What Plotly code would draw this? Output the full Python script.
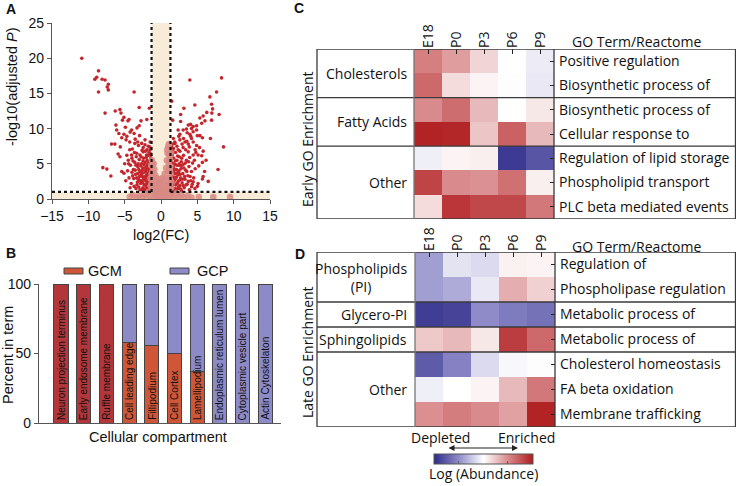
import plotly.graph_objects as go

W, H = 736, 486
def px(x):
    return x / W
def py(y):
    return 1 - y / H

# ---------------- Panel A: volcano ----------------
sig_x = [-10.9, -8.6, -8.85, -9.1, -8.1, -7.7, -7.25, -7.4, -7.25, -8.6, -3.7, -3.0, -5.65, -1.6, -7.7,
         -6.3, -5.5, -5.3, -5.1, -4.55, -4.4, -6.2, -6.1, -4.05, -4.25, -3.7, -3.3, -3.0, -2.75, -1.95,
         -5.1, -4.7, -5.4, -4.8, -6.8, -6.35, -4.3, -3.6, -3.2, -2.65, -2.2, -2.2, -1.5, -1.5, -1.5,
         -5.9, -5.65, -4.7, -4.05, -3.35, -2.9, -2.45, -2.0, -8.0, -7.45, -6.9, -5.4, -5.1,
         -4.5, -4.2, -4.0, -3.8, -3.6, -3.5, -3.4, -3.2, -3.1, -3.0, -2.9, -2.8, -2.7, -2.6, -2.5, -2.5,
         -2.4, -2.3, -2.2, -2.2, -2.1, -2.0, -2.0, -1.9, -1.9, -1.8, -1.8, -1.7, -1.7, -1.6, -1.6, -1.5,
         -1.5, -1.45, -1.4, -1.4, -4.4, -4.1, -3.9, -3.7, -3.3, -3.2, -2.9, -2.65, -2.35, -2.05, -1.85,
         -1.55, -4.6, -3.65, -2.75, -2.15, -1.75, -3.95, -2.45, -1.75, -5.0, -4.85, -3.45, -2.55, -1.95,
         -1.65, -1.35, -1.35, -3.05, -2.35, -4.3, -5.6,
         3.97, 8.33, 7.65, 6.73, 6.96, 7.1, 4.66, 3.15, 1.46, 6.3, 7.0, 8.0, 2.7, 1.6, 2.7, 5.35, 5.8,
         6.05, 5.6, 6.96, 3.75, 4.07, 4.43, 4.9, 2.36, 3.05, 3.5, 2.6, 3.97, 4.43, 4.9, 5.35, 5.7, 6.8,
         8.6, 1.9, 2.6, 3.3, 3.75, 4.2, 4.43, 4.9, 1.7, 2.36, 3.05, 3.75, 4.43, 5.1, 5.6, 5.8, 5.7, 7.85,
         5.8, 5.7, 4.43, 5.1, 4.2, 4.66,
         1.4, 1.45, 1.5, 1.5, 1.55, 1.6, 1.65, 1.7, 1.75, 1.8, 1.85, 1.9, 1.95, 2.0, 2.05, 2.1, 2.15, 2.2,
         2.3, 2.35, 2.4, 2.45, 2.5, 2.6, 2.7, 2.75, 2.8, 2.9, 3.0, 3.05, 3.1, 3.2, 3.3, 3.4, 3.5, 3.6, 3.7,
         3.85, 3.95, 4.1, 4.2, 4.35, 4.5, 4.7, 4.8, 5.2, 5.0, 3.9, 2.85, 1.6, 2.2, 2.9, 3.4, 3.9, 5.3,
         6.2, 6.0, 6.5, 1.45, 1.7, 2.45, 3.6, 4.1]
sig_y = [20.0, 18.2, 17.3, 17.0, 17.0, 16.9, 16.3, 15.9, 15.5, 15.2, 15.2, 13.0, 12.7, 12.9, 12.2,
         12.5, 12.2, 11.2, 11.6, 11.1, 11.3, 10.5, 9.8, 9.8, 9.5, 9.3, 10.1, 10.4, 11.1, 11.3,
         9.2, 8.9, 8.7, 8.4, 7.8, 7.8, 8.1, 7.9, 8.1, 7.9, 8.4, 7.7, 8.1, 7.0, 6.5,
         6.4, 6.0, 6.2, 6.25, 6.5, 6.25, 6.7, 6.25, 4.45, 4.25, 3.27, 3.9, 3.65,
         5.5, 4.8, 5.8, 4.2, 5.2, 3.5, 6.0, 4.6, 2.8, 5.6, 3.9, 2.2, 5.0, 3.2, 4.4, 1.6,
         5.8, 2.7, 3.8, 5.2, 1.9, 4.6, 3.0, 2.3, 5.5, 3.6, 1.4, 4.2, 2.8, 5.0, 1.8, 3.3,
         4.5, 2.4, 5.8, 1.2, 3.0, 2.2, 3.3, 1.8, 2.0, 3.6, 1.3, 2.6, 1.2, 2.1, 4.9,
         3.9, 4.0, 6.6, 6.0, 6.8, 6.2, 7.1, 7.3, 7.5, 5.0, 2.6, 4.8, 3.7, 1.1,
         3.4, 2.0, 4.1, 4.2, 4.9, 7.0, 7.4,
         16.9, 17.2, 15.2, 14.5, 13.45, 12.8, 13.35, 12.9, 13.9, 12.3, 12.2, 12.0, 12.0, 11.2, 11.0, 11.5, 11.8,
         11.1, 10.75, 11.2, 10.5, 10.6, 10.3, 10.4, 9.8, 9.8, 9.94, 9.2, 9.2, 9.56, 9.8, 9.0, 8.7, 8.6,
         7.4, 8.1, 8.4, 8.1, 7.8, 8.6, 8.1, 7.6, 7.2, 7.0, 7.3, 6.7, 6.25, 6.25, 6.15, 6.8, 5.2, 4.2,
         3.2, 2.85, 2.45, 2.2, 1.75, 1.5,
         1.3, 2.5, 3.8, 5.2, 6.3, 1.9, 3.1, 4.5, 5.8, 1.2, 2.7, 3.6, 4.9, 6.6, 2.0, 3.1, 4.2, 5.5,
         1.5, 2.5, 3.8, 4.8, 6.0, 1.9, 3.0, 4.3, 5.3, 2.3, 3.6, 4.9, 6.2, 1.6, 2.8, 4.1, 5.5, 2.1, 3.3,
         4.6, 5.9, 2.6, 3.9, 5.1, 3.0, 4.3, 6.6, 4.7, 1.8, 1.3, 1.1, 7.8, 7.5, 7.8, 7.0, 7.4, 7.3,
         5.5, 3.9, 2.5, 6.9, 8.6, 8.9, 9.4, 8.9]

# denser part of the significant clouds
sig2_x = [-1.38, -1.42, -1.48, -1.52, -1.58, -1.62, -1.68, -1.72, -1.78, -1.82, -1.88, -1.92, -1.98,
          -2.02, -2.08, -2.12, -2.18, -2.25, -2.28, -2.32, -2.42, -2.48, -2.52, -2.58, -2.62, -2.72,
          -2.78, -2.85, -2.95, -3.05, -3.15, -3.25, -3.35, -3.45, -3.55, -3.75, -3.85, -4.0, -4.25,
          -4.45, -1.44, -1.56, -1.66, -1.92, -2.6, -3.1, -3.55, -2.95, -4.9, -5.8,
          1.38, 1.42, 1.48, 1.52, 1.58, 1.62, 1.68, 1.72, 1.78, 1.82, 1.88, 1.92, 1.98, 2.02, 2.08,
          2.12, 2.18, 2.25, 2.28, 2.32, 2.42, 2.48, 2.52, 2.58, 2.62, 2.72, 2.78, 2.85, 2.95, 3.05,
          3.15, 3.25, 3.35, 3.45, 3.55, 3.75, 3.8, 4.0, 4.3, 4.6, 1.44, 1.56, 1.66, 1.92, 2.6, 3.1,
          3.55, 4.7, 5.0, 4.2]
sig2_y = [1.6, 2.9, 3.7, 4.9, 2.1, 1.1, 3.8, 5.3, 2.5, 3.1, 4.3, 1.6, 3.4,
          5.9, 2.6, 4.0, 1.4, 3.2, 4.4, 2.0, 3.0, 5.4, 2.3, 4.1, 1.3, 3.5,
          4.7, 2.6, 3.2, 1.7, 5.0, 2.4, 3.0, 1.5, 4.1, 2.9, 5.4, 3.8, 1.6,
          5.0, 6.2, 7.4, 6.6, 7.0, 6.9, 7.6, 8.5, 9.0, 10.2, 9.3,
          1.8, 3.3, 4.4, 5.7, 2.2, 1.0, 3.9, 5.0, 2.4, 3.1, 4.2, 1.5, 5.4, 2.9, 3.7,
          1.1, 4.8, 2.2, 6.1, 3.4, 1.7, 4.0, 5.0, 2.7, 3.5, 1.4, 4.7, 5.8, 2.8, 1.9,
          4.4, 3.2, 5.1, 2.0, 3.9, 2.5, 5.3, 3.2, 2.1, 5.5, 7.4, 6.6, 7.0, 7.9, 6.8, 8.6,
          8.2, 7.0, 9.0, 10.0]

ns_x = [-1.25, -1.2, -1.15, -1.1, -1.0, -0.95, -0.9, -0.8, -0.7, -0.6, -0.5, -0.4, -0.3, -0.2, -0.1,
        0.0, 0.1, 0.2, 0.3, 0.4, 0.5, 0.6, 0.7, 0.75, 0.8, 0.9, 0.95, 1.0, 1.05, 1.1, 1.15, 1.2, 1.2,
        1.25, 0.85, 1.0, -1.3, -1.3, -1.2, -1.0, -0.8, -0.6, -0.4, -0.2, 0.0, 0.2, 0.4, 0.6, 0.8, 1.0,
        1.2, -1.5, -1.7, -2.0, -2.3, -2.6, -3.0, -3.4, -3.9, -4.3, 1.5, 1.8, 2.1, 2.4, 2.8, 3.2, 3.7,
        4.2, 5.2, 7.2, 9.5, -0.5, 0.5, -1.0, 1.0, -1.4, 1.4, -0.75, 0.75, -0.35, 0.35, -1.1, 1.1,
        -0.9, 0.9, 1.3, 1.3, -1.35, -1.45, 1.35, 1.45, -0.15, 0.15]
ns_y = [5.5, 4.8, 4.0, 3.2, 5.0, 2.6, 4.2, 3.4, 2.2, 3.0, 1.8, 2.5, 1.4, 2.0, 2.8,
        1.2, 2.2, 3.0, 1.6, 2.6, 3.6, 2.0, 4.4, 3.0, 5.5, 6.5, 4.0, 7.5, 5.0, 7.8, 6.2, 4.2, 3.0,
        5.6, 7.0, 2.2, 2.2, 3.5, 1.4, 1.0, 0.6, 1.1, 0.4, 0.9, 0.3, 0.8, 0.4, 1.1, 0.6, 1.2,
        0.5, 0.4, 1.0, 0.3, 0.7, 0.2, 0.5, 0.2, 0.6, 0.3, 0.6, 0.2, 0.8, 0.3, 0.6, 0.2, 0.5,
        0.2, 0.3, 0.3, 0.3, 0.0, 0.0, 0.1, 0.05, 1.8, 1.6, 1.6, 1.5, 1.2, 1.2, 2.0, 2.0,
        1.5, 1.0, 3.7, 4.6, 4.8, 2.9, 6.6, 2.4, 0.6, 0.5]

fc_thresh = 1.3
p_thresh = 1.0
volcano_xticks = [-15, -10, -5, 0, 5, 10, 15]
volcano_yticks = [0, 5, 10, 15, 20, 25]

# ---------------- Panel B: stacked bars ----------------
compartments = ["Neuron projection terminus", "Early endosome membrane", "Ruffle membrane",
                "Cell leading edge", "Fillipodium", "Cell Cortex", "Lamellipodium",
                "Endoplasmic reticulum lumen", "Cytoplasmic vesicle part", "Actin Cytoskelaton"]
gcm_pct = [100, 100, 100, 58, 56, 50, 37, 0, 0, 0]
gcp_pct = [100 - v for v in gcm_pct]
gcm_colors = ["#b3363a", "#b3363a", "#b3363a", "#cf5738", "#cf5738", "#cf5738", "#cf5738",
              "#cf5738", "#cf5738", "#cf5738"]
gcp_color = "#8d8ac8"

# ---------------- Panels C / D: heatmaps ----------------
stages = ["E18", "P0", "P3", "P6", "P9"]
early_terms = ["Positive regulation", "Biosynthetic process of", "Biosynthetic process of",
               "Cellular response to", "Regulation of lipid storage", "Phospholipid transport",
               "PLC beta mediated events"]
early_groups = ["Cholesterols", "Fatty Acids", "Other"]
early_group_sizes = [2, 2, 3]
early_z = [
    [0.55, 0.42, 0.18, 0.00, -0.08],
    [0.65, 0.15, 0.05, 0.01, -0.10],
    [0.50, 0.63, 0.30, 0.00, 0.10],
    [0.97, 0.95, 0.25, 0.68, 0.30],
    [-0.07, 0.05, 0.07, -0.92, -0.78],
    [0.82, 0.50, 0.47, 0.62, 0.07],
    [0.15, 0.88, 0.80, 0.80, 0.58],
]
late_terms = ["Regulation of", "Phospholipase regulation", "Metabolic process of",
              "Metabolic process of", "Cholesterol homeostasis", "FA beta oxidation",
              "Membrane trafficking"]
late_groups = ["Phospholipids<br>(PI)", "Glycero-PI", "Sphingolipids", "Other"]
late_group_sizes = [2, 1, 1, 3]
late_z = [
    [-0.42, -0.12, -0.16, 0.06, 0.05],
    [-0.42, -0.36, -0.10, 0.35, 0.20],
    [-0.90, -0.87, -0.50, -0.58, -0.63],
    [0.23, 0.30, 0.10, 0.85, 0.65],
    [-0.75, -0.55, -0.16, -0.03, -0.01],
    [-0.07, 0.00, 0.05, 0.30, 0.58],
    [0.48, 0.56, 0.50, 0.40, 0.97],
]

FA = "Liberation Sans, Arial, sans-serif"
FC = "Open Sans, sans-serif"
LC = "#3a3a3a"

fig = go.Figure()

# Volcano
fig.add_trace(go.Scatter(x=sig_x + sig2_x, y=sig_y + sig2_y, mode="markers", xaxis="x", yaxis="y",
                         marker=dict(size=3.6, color="#c4262c"), showlegend=False, hoverinfo="skip"))
fig.add_trace(go.Scatter(x=ns_x, y=ns_y, mode="markers", xaxis="x", yaxis="y",
                         marker=dict(size=6.5, color="#d98a84", opacity=0.85), showlegend=False,
                         hoverinfo="skip"))

# Bars
xi = list(range(len(compartments)))
fig.add_trace(go.Bar(x=xi, y=gcm_pct, marker=dict(color=gcm_colors, line=dict(color="#444", width=1)),
                     width=0.62, xaxis="x2", yaxis="y2", showlegend=False, hoverinfo="skip"))
fig.add_trace(go.Bar(x=xi, y=gcp_pct, marker=dict(color=gcp_color, line=dict(color="#444", width=1)),
                     width=0.62, xaxis="x2", yaxis="y2", showlegend=False, hoverinfo="skip"))

# Heatmaps
fig.add_trace(go.Heatmap(z=early_z, x=list(range(5)), y=list(range(7)), coloraxis="coloraxis",
                         xaxis="x3", yaxis="y3", hoverinfo="skip"))
fig.add_trace(go.Heatmap(z=late_z, x=list(range(5)), y=list(range(7)), coloraxis="coloraxis",
                         xaxis="x4", yaxis="y4", hoverinfo="skip"))

axis_common = dict(showgrid=False, zeroline=False, showline=True, linecolor="#555", linewidth=1.3,
                   ticks="outside", ticklen=4, tickcolor="#555", tickfont=dict(family=FA, size=14, color="#111"))

A_X = [px(52), px(270)]
A_Y = [py(199), py(23)]
B_X = [px(39), px(281)]
B_Y = [py(423), py(284)]
C_X = [px(414), px(554)]
C_Y = [py(219), py(49)]
D_X = [px(415), px(555)]
D_Y = [py(427), py(252)]

hm_x = dict(range=[-0.5, 4.5], tickvals=list(range(5)), ticktext=stages, side="top", tickangle=-90,
            ticks="inside", ticklen=5, tickcolor="#222", showgrid=False, zeroline=False, showline=False,
            tickfont=dict(family=FC, size=14, color="#111"))
hm_y = dict(range=[6.5, -0.5], tickvals=list(range(7)), side="right", ticks="inside", ticklen=4,
            tickcolor="#222", showgrid=False, zeroline=False, showline=False,
            tickfont=dict(family=FC, size=14, color="#111"), ticklabelstandoff=4)

fig.update_layout(
    width=W, height=H, margin=dict(l=0, r=0, t=0, b=0, autoexpand=False),
    paper_bgcolor="white", plot_bgcolor="rgba(0,0,0,0)", barmode="stack",
    xaxis=dict(domain=A_X, anchor="y", range=[-15, 15], tickvals=volcano_xticks, **axis_common),
    yaxis=dict(domain=A_Y, anchor="x", range=[0, 25], tickvals=volcano_yticks, **axis_common),
    xaxis2=dict(domain=B_X, anchor="y2", range=[-0.97, 9.7], showticklabels=False,
                showgrid=False, zeroline=False, showline=True, linecolor="#555", linewidth=1.3, ticks=""),
    yaxis2=dict(domain=B_Y, anchor="x2", range=[0, 100], tickvals=[0, 50, 100], **axis_common),
    xaxis3=dict(domain=C_X, anchor="y3", **hm_x),
    yaxis3=dict(domain=C_Y, anchor="x3", ticktext=early_terms, **hm_y),
    xaxis4=dict(domain=D_X, anchor="y4", **hm_x),
    yaxis4=dict(domain=D_Y, anchor="x4", ticktext=late_terms, **hm_y),
    coloraxis=dict(cmin=-1, cmax=1,
                   colorscale=[[0, "#2c2a88"], [0.25, "#8f8bc9"], [0.5, "#ffffff"],
                               [0.75, "#d98a8c"], [1, "#b01c1e"]],
                   colorbar=dict(orientation="h", x=px(483), xanchor="center", y=py(461),
                                 yanchor="middle", len=99 / W, lenmode="fraction", thickness=10,
                                 outlinewidth=1, outlinecolor="#555", ticks="inside", ticklen=3,
                                 tickcolor="#666", tickvals=[-0.5, 0.5], showticklabels=False, xpad=0, ypad=0)),
)

shapes = []
# volcano shading & thresholds
shapes.append(dict(type="rect", xref="x", yref="y", x0=-fc_thresh, x1=fc_thresh, y0=0, y1=25,
                   fillcolor="#f8ebd8", line=dict(width=0), layer="below"))
shapes.append(dict(type="rect", xref="x", yref="y", x0=-15, x1=15, y0=0, y1=p_thresh,
                   fillcolor="#f8ebd8", line=dict(width=0), layer="below"))
for xv in (-fc_thresh, fc_thresh):
    shapes.append(dict(type="line", xref="x", yref="y", x0=xv, x1=xv, y0=p_thresh, y1=25,
                       line=dict(color="#111", width=2.2, dash="dot")))
shapes.append(dict(type="line", xref="x", yref="y", x0=-15, x1=-fc_thresh, y0=p_thresh, y1=p_thresh,
                   line=dict(color="#111", width=2.2, dash="dot")))
shapes.append(dict(type="line", xref="x", yref="y", x0=fc_thresh, x1=15, y0=p_thresh, y1=p_thresh,
                   line=dict(color="#111", width=2.2, dash="dot")))

# legend B
for (x0, x1, col) in ((64, 83, "#cf5738"), (170, 189, gcp_color)):
    shapes.append(dict(type="rect", xref="paper", yref="paper", x0=px(x0), x1=px(x1), y0=py(274), y1=py(268),
                       fillcolor=col, line=dict(color="#444", width=1)))

# heatmap group boxes
box_left = px(317)
box_right = px(735.5)
def group_boxes(yref, hx, sizes):
    out = []
    bounds = [-0.5]
    for s in sizes:
        bounds.append(bounds[-1] + s)
    for b in bounds:
        out.append(dict(type="line", xref="paper", yref=yref, x0=box_left, x1=box_right, y0=b, y1=b,
                        line=dict(color=LC, width=1.3)))
    for xv, col in ((box_left, LC), (hx[0], "#777"), (hx[1], LC), (box_right, LC)):
        out.append(dict(type="line", xref="paper", yref=yref, x0=xv, x1=xv, y0=-0.5, y1=bounds[-1],
                        line=dict(color=col, width=1.3)))
    return out, bounds
sc, bc = group_boxes("y3", C_X, early_group_sizes)
sd, bd = group_boxes("y4", D_X, late_group_sizes)
shapes += sc + sd
fig.update_layout(shapes=shapes)

ann = []
def txt(x, y, s, size=14, family=FA, **kw):
    d = dict(x=px(x), y=py(y), xref="paper", yref="paper", text=s, showarrow=False,
             xanchor="center", yanchor="middle",
             font=dict(family=family, size=size, color="#111"))
    d.update(kw)
    ann.append(d)

# panel letters
for L, x, y in (("A", 11, 9), ("B", 11, 253), ("C", 299, 8), ("D", 300, 254)):
    txt(x, y, "<b>%s</b>" % L, size=14, family=FA)

# A titles
txt(161, 235, "log2(FC)", size=14.5)
txt(12, 87, "-log10(adjusted <i>P</i>)", size=14.5, textangle=-90)
# B titles / legend
txt(158, 437, "Cellular compartment", size=14.5)
txt(8, 355, "Percent in term", size=14.5, textangle=-90)
txt(86, 271, "GCM", size=14.5, xanchor="left")
txt(195, 271, "GCP", size=14.5, xanchor="left")
for i, name in enumerate(compartments):
    ann.append(dict(x=i, y=0, xref="x2", yref="y2", text=name, showarrow=False, textangle=-90,
                    xanchor="center", yanchor="bottom", yshift=1,
                    font=dict(family=FA, size=10, color="#111")))

# heatmap group labels
def group_labels(yref, names, bounds):
    for k, name in enumerate(names):
        yc = (bounds[k] + bounds[k + 1]) / 2
        ann.append(dict(x=px(409), y=yc, xref="paper", yref=yref, text=name, showarrow=False,
                        xanchor="right", yanchor="middle", align="center",
                        font=dict(family=FC, size=14, color="#111")))
group_labels("y3", early_groups, bc)
group_labels("y4", late_groups, bd)

txt(636, 42, "GO Term/Reactome", size=14, family=FC)
txt(636, 246, "GO Term/Reactome", size=14, family=FC)
txt(307, 140, "Early GO Enrichment", size=14, family=FC, textangle=-90)
txt(307, 352, "Late GO Enrichment", size=14, family=FC, textangle=-90)

txt(440, 437, "Depleted", size=14, family=FC)
txt(526, 437, "Enriched", size=14, family=FC)
txt(483, 473, "Log (Abundance)", size=14, family=FC)
ann.append(dict(x=px(518), y=py(448), xref="paper", yref="paper", ax=-71, ay=0, text="",
                showarrow=True, arrowhead=2, arrowside="end+start", arrowsize=1, arrowwidth=1.2,
                arrowcolor="#222"))

fig.update_layout(annotations=ann)
fig.write_html("out.html", config={"displayModeBar": False},
               post_script="document.body.style.margin='0';document.body.style.overflow='hidden';")
